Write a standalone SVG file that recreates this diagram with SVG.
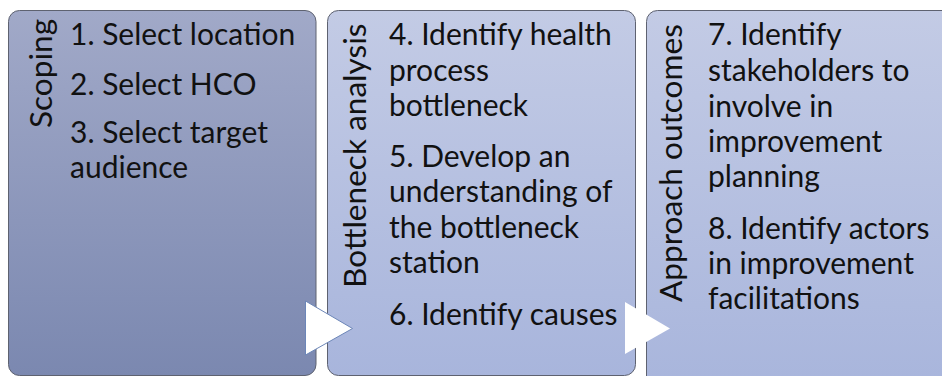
<svg xmlns="http://www.w3.org/2000/svg" width="942" height="376" viewBox="0 0 942 376">
  <defs>
    <linearGradient id="gScoping" x1="0" y1="0" x2="0" y2="1">
      <stop offset="0" stop-color="#a1a9c8"/>
      <stop offset="1" stop-color="#7b88b0"/>
    </linearGradient>
    <linearGradient id="gLight" x1="0" y1="0" x2="0" y2="1">
      <stop offset="0" stop-color="#c3cbe5"/>
      <stop offset="1" stop-color="#a8b5dc"/>
    </linearGradient>
  </defs>
  <style>
    .box { stroke: #5e6270; stroke-width: 1; }
    .body { font-family: Lato, "Liberation Sans", sans-serif; font-size: 30px; fill: #111111; }
    .side { font-family: Lato, "Liberation Sans", sans-serif; font-size: 31.6px; fill: #111111; }
    .arrow { fill: #ffffff; }
  </style>

  <!-- Stage 1 -->
  <g id="scoping">
    <rect class="box" x="8.5" y="10.5" width="307.5" height="365" rx="11" fill="url(#gScoping)"/>
    <text class="side" transform="translate(52,128) rotate(-90)">Scoping</text>
    <text class="body" x="70" y="45">1. Select location</text>
    <text class="body" x="70" y="95">2. Select HCO</text>
    <text class="body" x="70" y="143">3. Select target</text>
    <text class="body" x="70" y="178">audience</text>
  </g>

  <!-- Stage 2 -->
  <g id="bottleneck-analysis">
    <rect class="box" x="327.5" y="10.5" width="308" height="365" rx="11" fill="url(#gLight)"/>
    <text class="side" transform="translate(366,288) rotate(-90)">Bottleneck analysis</text>
    <text class="body" x="389" y="45">4. Identify health</text>
    <text class="body" x="389" y="80.5">process</text>
    <text class="body" x="389" y="116">bottleneck</text>
    <text class="body" x="389" y="167">5. Develop an</text>
    <text class="body" x="389" y="202">understanding of</text>
    <text class="body" x="389" y="238">the bottleneck</text>
    <text class="body" x="389" y="273">station</text>
    <text class="body" x="389" y="325">6. Identify causes</text>
  </g>

  <!-- Stage 3 -->
  <g id="approach-outcomes">
    <rect class="box" x="646.5" y="10.5" width="320" height="380" rx="11" fill="url(#gLight)"/>
    <text class="side" transform="translate(682,302) rotate(-90)">Approach outcomes</text>
    <text class="body" x="708" y="45">7. Identify</text>
    <text class="body" x="708" y="81">stakeholders to</text>
    <text class="body" x="708" y="117">involve in</text>
    <text class="body" x="708" y="152">improvement</text>
    <text class="body" x="708" y="187">planning</text>
    <text class="body" x="708" y="239">8. Identify actors</text>
    <text class="body" x="708" y="274">in improvement</text>
    <text class="body" x="708" y="309">facilitations</text>
  </g>

  <!-- Flow arrows between stages -->
  <g id="connectors">
    <polygon class="arrow" points="305.5,301 352.5,328.5 305.5,355" stroke="#6c86b8" stroke-width="1"/>
    <polygon class="arrow" points="625,302 670,328.5 625,354"/>
  </g>
</svg>
